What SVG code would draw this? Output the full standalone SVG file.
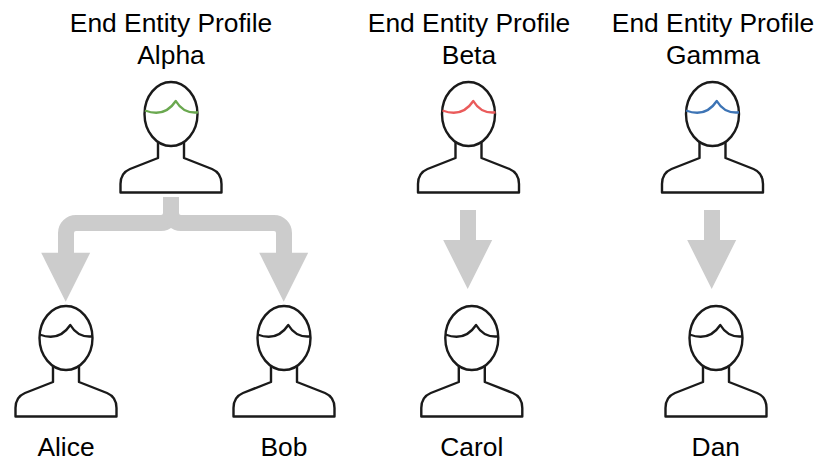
<svg xmlns="http://www.w3.org/2000/svg" width="828" height="475" viewBox="0 0 828 475">
<style>
.line{fill:#fff;stroke:#1a1a1a;stroke-width:2.4;stroke-linejoin:round}
.hair{fill:none;stroke-width:2.4;stroke-linejoin:round}
.black{stroke:#1a1a1a}.green{stroke:#6aa84f}.red{stroke:#ea5b5b}.blue{stroke:#3d74b5}
.flow{fill:none;stroke:#ccc;stroke-width:16}
.head{fill:#ccc}
text{font-family:"Liberation Sans",Arial,sans-serif;font-size:26.4px;fill:#000;text-anchor:middle}
</style>
<defs>
<g id="person">
<path class="line" d="M-13 60V76L-41 87C-47 89.5-50.5 95-50.5 102V110.5H50.5V102C50.5 95 47 89.5 41 87L13 76V60Z"/>
<ellipse class="line" cx="0" cy="32" rx="26.5" ry="32"/>
</g>
<path id="hair" d="M-26.5 28.5Q-7 36 4.3 19Q12 32 26.5 30.3"/>
<polygon id="head" points="-24.5,0 24.5,0 0,49"/>
</defs>
<g id="connectors">
<path class="flow" d="M171 197V213A10 10 0 0 1 161 223H76A10 10 0 0 0 66 233V254"/>
<path class="flow" d="M171 197V213A10 10 0 0 0 181 223H274A10 10 0 0 1 284 233V254"/>
<use href="#head" class="head" x="65.7" y="252.7"/>
<use href="#head" class="head" x="283.7" y="252.7"/>
<path class="flow" d="M468 210V241"/>
<use href="#head" class="head" x="467.7" y="240"/>
<path class="flow" d="M712 210V241"/>
<use href="#head" class="head" x="711.7" y="240"/>
</g>
<g id="profile-alpha">
<text x="171" y="31.5">End Entity Profile</text><text x="171" y="63.5">Alpha</text>
<use href="#person" x="171" y="82"/><use href="#hair" class="hair green" x="171.5" y="82"/>
</g>
<g id="profile-beta">
<text x="469" y="31.5">End Entity Profile</text><text x="469" y="63.5">Beta</text>
<use href="#person" x="468.5" y="82"/><use href="#hair" class="hair red" x="469" y="82"/>
</g>
<g id="profile-gamma">
<text x="713" y="31.5">End Entity Profile</text><text x="713" y="63.5">Gamma</text>
<use href="#person" x="712.5" y="82"/><use href="#hair" class="hair blue" x="712.5" y="82"/>
</g>
<g id="alice">
<use href="#person" x="66" y="306"/><use href="#hair" class="hair black" x="66" y="306"/>
<text x="66" y="455.5">Alice</text>
</g>
<g id="bob">
<use href="#person" x="284" y="306"/><use href="#hair" class="hair black" x="284" y="306"/>
<text x="284" y="455.5">Bob</text>
</g>
<g id="carol">
<use href="#person" x="471.8" y="306"/><use href="#hair" class="hair black" x="471.8" y="306"/>
<text x="471.8" y="455.5">Carol</text>
</g>
<g id="dan">
<use href="#person" x="716" y="306"/><use href="#hair" class="hair black" x="716" y="306"/>
<text x="715.8" y="455.5">Dan</text>
</g>
</svg>
